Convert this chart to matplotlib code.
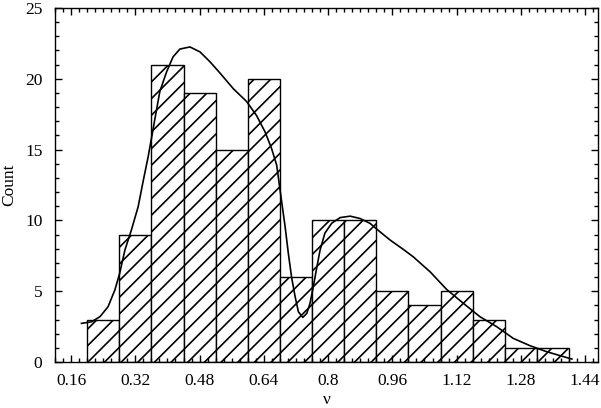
import matplotlib
matplotlib.use("Agg")
import matplotlib.pyplot as plt
import numpy as np
from matplotlib.ticker import MultipleLocator

plt.rcParams['font.family'] = ['Liberation Serif', 'DejaVu Serif']
plt.rcParams['hatch.linewidth'] = 1.2

# histogram bins (left edges) and counts
bin_left = [0.20, 0.28, 0.36, 0.44, 0.52, 0.60, 0.68, 0.76, 0.84, 0.92,
            1.00, 1.08, 1.16, 1.24, 1.32]
counts = [3, 9, 21, 19, 15, 20, 6, 10, 10, 5, 4, 5, 3, 1, 1]
bin_width = 0.08

# smooth curve
curve_x = [0.186, 0.211, 0.232, 0.252, 0.269, 0.281, 0.294, 0.310, 0.327,
           0.340, 0.352, 0.369, 0.381, 0.398, 0.414, 0.431, 0.456, 0.481,
           0.506, 0.531, 0.564, 0.597, 0.622, 0.643, 0.659, 0.672, 0.684,
           0.693, 0.701, 0.709, 0.718, 0.726, 0.737, 0.747, 0.755, 0.763,
           0.772, 0.780, 0.792, 0.809, 0.830, 0.855, 0.879, 0.904, 0.929,
           0.955, 0.985, 1.012, 1.054, 1.095, 1.137, 1.178, 1.220, 1.261,
           1.303, 1.344, 1.386, 1.407]
curve_y = [2.73, 2.84, 3.2, 3.9, 5.08, 6.26, 7.9, 9.3, 10.96,
           12.84, 14.5, 17.2, 19.1, 20.5, 21.55, 22.1, 22.25, 21.9,
           21.2, 20.4, 19.3, 18.4, 17.4, 16.25, 15.1, 13.9, 11.4,
           9.55, 7.67, 6.0, 4.6, 3.55, 3.15, 3.44, 4.14, 5.3,
           6.7, 7.9, 9.1, 9.8, 10.2, 10.3, 10.14, 9.8, 9.2,
           8.6, 8.0, 7.43, 6.37, 5.13, 4.14, 3.2, 2.49, 1.67,
           1.15, 0.73, 0.38, 0.21]

fig = plt.figure(figsize=(6.01, 4.08), dpi=100)
ax = fig.add_axes([0.0915, 0.1127, 0.9035, 0.8677])

ax.bar(bin_left, counts, width=bin_width, align='edge', facecolor='white',
       edgecolor='black', linewidth=1.0, hatch='//')
ax.plot(curve_x, curve_y, color='black', linewidth=1.2)

ax.set_xlim(0.12, 1.472)
ax.set_ylim(0, 25)

ax.set_xticks(np.arange(0.16, 1.45, 0.16))
ax.set_xticklabels(['0.16', '0.32', '0.48', '0.64', '0.8', '0.96', '1.12', '1.28', '1.44'])
ax.xaxis.set_minor_locator(MultipleLocator(0.02))
ax.yaxis.set_major_locator(MultipleLocator(5))
ax.yaxis.set_minor_locator(MultipleLocator(1))

ax.tick_params(which='both', direction='in', top=True, right=True,
               labelsize=12.5, width=1.0)
ax.tick_params(which='major', length=5)
ax.tick_params(which='minor', length=3)
ax.tick_params(axis='x', pad=8)
ax.tick_params(axis='y', pad=9)

for s in ax.spines.values():
    s.set_linewidth(1.0)

ax.set_xlabel('ν', fontsize=12.5, labelpad=2)
ax.set_ylabel('Count', fontsize=12.5, labelpad=6)

fig.savefig('out.png', dpi=100)
